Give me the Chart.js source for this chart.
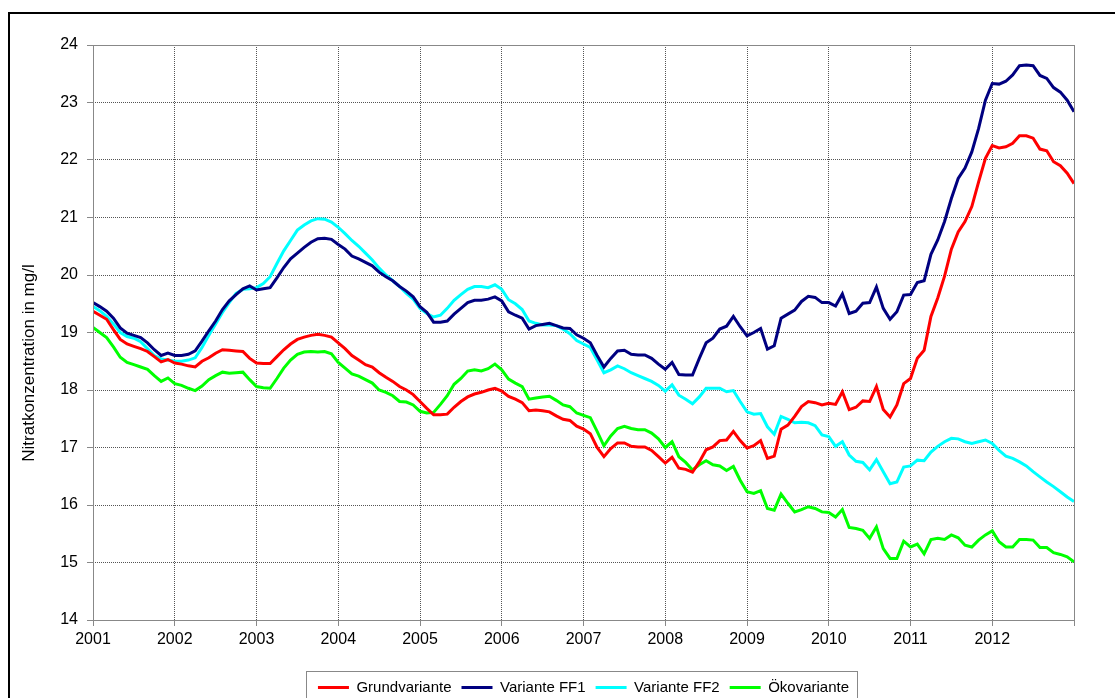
<!DOCTYPE html>
<html>
<head>
<meta charset="utf-8">
<script src="https://cdn.jsdelivr.net/npm/chart.js@4"></script>
<style>
  html, body { margin: 0; padding: 0; background: #fff; }
  #wrap { width: 1115px; height: 698px; }
</style>
</head>
<body>
<div id="wrap"><canvas id="nitrat" width="1115" height="698"></canvas></div>
<script>
// tick labels (one per year, Jan of each year)
const years = ['2001','2002','2003','2004','2005','2006','2007','2008','2009','2010','2011','2012'];

// monthly values Jan 2001 .. Jan 2013, mg/l
const grundvariante = [
  19.37,19.30,19.23,19.05,18.88,18.80,18.76,18.72,18.67,18.58,18.49,18.53,
  18.47,18.45,18.42,18.40,18.50,18.56,18.64,18.70,18.69,18.68,18.67,18.55,
  18.47,18.46,18.46,18.58,18.70,18.80,18.88,18.92,18.95,18.97,18.95,18.92,
  18.82,18.72,18.60,18.52,18.44,18.40,18.30,18.22,18.15,18.06,18.00,17.92,
  17.80,17.68,17.57,17.57,17.58,17.70,17.80,17.88,17.93,17.96,18.00,18.03,
  17.98,17.89,17.84,17.78,17.64,17.65,17.64,17.62,17.55,17.49,17.47,17.37,
  17.32,17.24,17.00,16.84,16.98,17.08,17.08,17.02,17.01,17.01,16.95,16.84,
  16.73,16.83,16.64,16.62,16.57,16.75,16.96,17.01,17.12,17.13,17.28,17.12,
  16.99,17.03,17.12,16.81,16.85,17.32,17.39,17.54,17.71,17.80,17.78,17.74,
  17.77,17.75,17.97,17.66,17.70,17.81,17.80,18.06,17.66,17.53,17.74,18.11,
  18.20,18.55,18.69,19.28,19.60,19.98,20.45,20.75,20.93,21.19,21.62,22.03,
  22.25,22.21,22.23,22.29,22.42,22.42,22.38,22.19,22.16,21.97,21.90,21.77,
  21.59
];
const varianteFF1 = [
  19.52,19.45,19.37,19.25,19.08,18.99,18.95,18.91,18.82,18.70,18.60,18.64,
  18.60,18.60,18.62,18.68,18.85,19.03,19.20,19.40,19.55,19.66,19.76,19.81,
  19.74,19.76,19.78,19.95,20.13,20.28,20.38,20.48,20.57,20.63,20.64,20.62,
  20.53,20.45,20.33,20.28,20.22,20.16,20.05,19.97,19.90,19.80,19.72,19.62,
  19.45,19.35,19.18,19.18,19.20,19.32,19.42,19.52,19.56,19.56,19.58,19.62,
  19.55,19.36,19.30,19.25,19.06,19.12,19.14,19.16,19.12,19.08,19.07,18.96,
  18.90,18.82,18.60,18.40,18.55,18.68,18.69,18.62,18.61,18.61,18.55,18.45,
  18.36,18.48,18.27,18.26,18.26,18.55,18.82,18.90,19.06,19.11,19.28,19.10,
  18.94,19.00,19.07,18.71,18.77,19.25,19.32,19.39,19.54,19.63,19.61,19.52,
  19.52,19.46,19.67,19.33,19.37,19.51,19.52,19.79,19.42,19.23,19.36,19.65,
  19.66,19.87,19.90,20.36,20.61,20.93,21.33,21.68,21.86,22.14,22.55,23.04,
  23.33,23.32,23.37,23.48,23.64,23.65,23.64,23.47,23.42,23.26,23.18,23.04,
  22.84
];
const varianteFF2 = [
  19.45,19.38,19.28,19.15,19.00,18.93,18.90,18.84,18.72,18.60,18.54,18.52,
  18.50,18.50,18.52,18.56,18.74,18.95,19.15,19.35,19.52,19.68,19.75,19.76,
  19.78,19.85,19.97,20.20,20.42,20.60,20.78,20.87,20.94,20.98,20.97,20.92,
  20.83,20.72,20.60,20.50,20.38,20.26,20.12,20.00,19.90,19.80,19.68,19.58,
  19.42,19.33,19.27,19.30,19.42,19.56,19.66,19.75,19.80,19.80,19.78,19.83,
  19.75,19.57,19.50,19.40,19.20,19.16,19.13,19.13,19.12,19.06,18.98,18.86,
  18.80,18.74,18.52,18.30,18.35,18.42,18.37,18.30,18.25,18.20,18.15,18.08,
  17.98,18.09,17.91,17.84,17.76,17.88,18.03,18.03,18.03,17.97,17.99,17.80,
  17.62,17.58,17.59,17.36,17.23,17.54,17.49,17.43,17.44,17.43,17.38,17.22,
  17.19,17.02,17.10,16.87,16.76,16.74,16.61,16.79,16.58,16.37,16.40,16.66,
  16.68,16.78,16.77,16.92,17.02,17.10,17.16,17.15,17.10,17.07,17.10,17.13,
  17.07,16.95,16.85,16.81,16.75,16.68,16.58,16.49,16.40,16.32,16.23,16.14,
  16.06
];
const oekovariante = [
  19.09,19.00,18.91,18.75,18.57,18.48,18.44,18.40,18.36,18.25,18.15,18.21,
  18.11,18.08,18.03,17.99,18.07,18.18,18.25,18.31,18.29,18.30,18.31,18.18,
  18.06,18.04,18.03,18.20,18.38,18.52,18.62,18.66,18.67,18.66,18.67,18.63,
  18.48,18.38,18.28,18.24,18.18,18.12,18.00,17.96,17.90,17.80,17.79,17.74,
  17.63,17.60,17.61,17.75,17.90,18.10,18.20,18.33,18.35,18.33,18.37,18.45,
  18.35,18.19,18.12,18.06,17.84,17.86,17.88,17.89,17.82,17.74,17.71,17.60,
  17.56,17.52,17.28,17.03,17.20,17.33,17.37,17.33,17.31,17.31,17.25,17.15,
  17.00,17.10,16.84,16.74,16.61,16.70,16.77,16.70,16.68,16.60,16.67,16.43,
  16.23,16.20,16.25,15.94,15.91,16.19,16.03,15.88,15.92,15.97,15.94,15.88,
  15.87,15.79,15.92,15.61,15.59,15.56,15.42,15.62,15.24,15.07,15.07,15.37,
  15.27,15.32,15.15,15.40,15.42,15.40,15.48,15.43,15.30,15.27,15.39,15.48,
  15.55,15.36,15.27,15.27,15.40,15.40,15.39,15.26,15.26,15.17,15.14,15.10,
  15.01
];

const seriesNames = ['Grundvariante', 'Variante FF1', 'Variante FF2', 'Ökovariante'];
const seriesColors = ['#ff0000', '#000080', '#00ffff', '#00ff00'];
const yTitle = 'Nitratkonzentration in mg/l';

const FONT = "'Liberation Sans', Arial, sans-serif";
const toPoints = arr => arr.map((v, i) => ({ x: i, y: v }));

// frame, plot border, y title and legend box
const decor = {
    id: 'decor',
    beforeDraw(chart) {
        const ctx = chart.ctx;
        ctx.save();
        ctx.fillStyle = '#fff';
        ctx.fillRect(0, 0, chart.width, chart.height);
        ctx.strokeStyle = '#000';
        ctx.lineWidth = 2;
        ctx.beginPath();
        ctx.moveTo(9, chart.height + 2);
        ctx.lineTo(9, 13);
        ctx.lineTo(chart.width + 2, 13);
        ctx.stroke();
        ctx.restore();
    },
    afterLayout(chart) {
        // the legend sits a little lower than chart.js puts it (clipped at bottom)
        chart.legend.top += 7;
        chart.legend.bottom += 7;
    },
    afterDatasetsDraw(chart) {
        const { ctx, chartArea: a } = chart;
        ctx.save();
        ctx.strokeStyle = '#888';
        ctx.lineWidth = 1;
        ctx.strokeRect(Math.round(a.left) + 0.5, Math.round(a.top) + 0.5,
            Math.round(a.right - a.left), Math.round(a.bottom - a.top));
        ctx.restore();
    },
    afterDraw(chart) {
        const ctx = chart.ctx;
        ctx.save();
        ctx.fillStyle = '#000';
        ctx.font = "17px " + FONT;
        ctx.textAlign = 'center';
        ctx.textBaseline = 'middle';
        ctx.translate(29, 363);
        ctx.rotate(-Math.PI / 2);
        ctx.fillText(yTitle, 0, 0);
        ctx.restore();

        const boxes = chart.legend.legendHitBoxes;
        if (boxes && boxes.length) {
            const l = Math.min(...boxes.map(b => b.left)) - 12;
            const r = Math.max(...boxes.map(b => b.left + b.width)) + 8;
            ctx.save();
            ctx.strokeStyle = '#888';
            ctx.lineWidth = 1;
            ctx.strokeRect(Math.round(l) + 0.5, 671.5, Math.round(r - l), 40);
            ctx.restore();
        }
    }
};

new Chart(document.getElementById('nitrat'), {
    type: 'line',
    data: {
        datasets: [grundvariante, varianteFF1, varianteFF2, oekovariante].map((arr, k) => ({
            label: seriesNames[k],
            data: toPoints(arr),
            borderColor: seriesColors[k],
            backgroundColor: seriesColors[k],
            borderWidth: 3,
            pointRadius: 0,
            tension: 0
        }))
    },
    options: {
        responsive: false,
        animation: false,
        events: [],
        layout: { padding: { left: 10, top: 45, right: 41, bottom: 0 } },
        plugins: {
            tooltip: { enabled: false },
            legend: {
                position: 'bottom',
                fullSize: false,
                labels: {
                    usePointStyle: true,
                    pointStyle: 'line',
                    pointStyleWidth: 31,
                    boxHeight: 3,
                    padding: 10,
                    color: '#000',
                    font: { family: FONT, size: 15 }
                }
            }
        },
        scales: {
            x: {
                type: 'linear',
                min: 0,
                max: 144,
                afterFit: s => { s.height = 43; },
                ticks: {
                    stepSize: 12,
                    autoSkip: false,
                    maxRotation: 0,
                    padding: 4,
                    color: '#000',
                    font: { family: FONT, size: 16 },
                    callback: v => years[v / 12] || ''
                },
                grid: { color: '#555', tickColor: '#888', tickLength: 6, lineWidth: 1 },
                border: { display: false, dash: [1, 1] }
            },
            y: {
                min: 14,
                max: 24,
                afterFit: s => { s.width = 83; },
                ticks: {
                    stepSize: 1,
                    padding: 9,
                    color: '#000',
                    font: { family: FONT, size: 16 }
                },
                grid: { color: '#555', tickColor: '#888', tickLength: 6, lineWidth: 1 },
                border: { display: false, dash: [1, 1] }
            }
        }
    },
    plugins: [decor]
});
</script>
</body>
</html>
